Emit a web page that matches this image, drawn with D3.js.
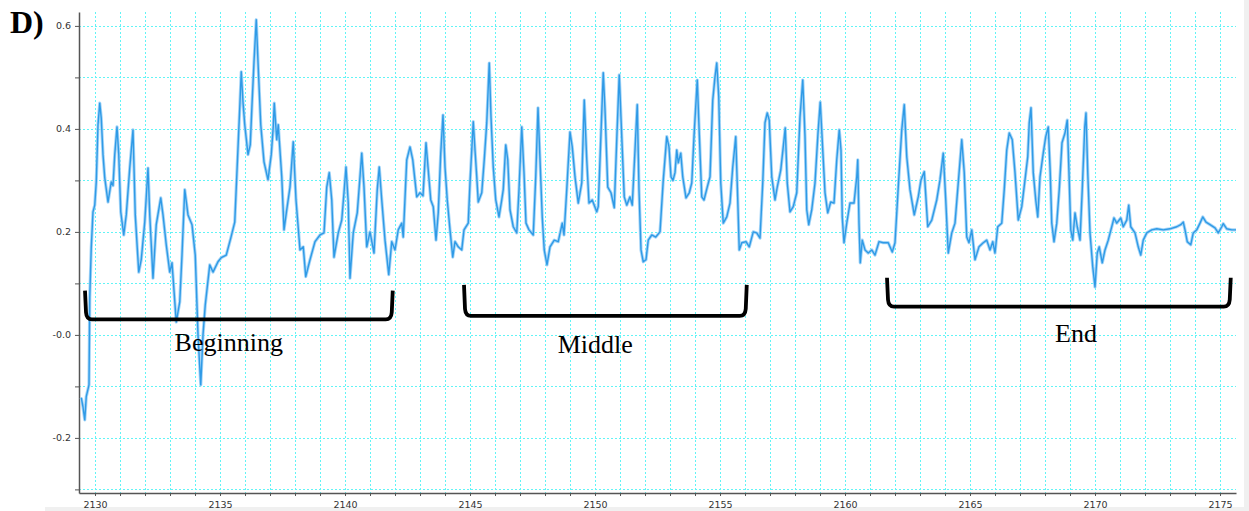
<!DOCTYPE html>
<html>
<head>
<meta charset="utf-8">
<script src="https://cdn.jsdelivr.net/npm/d3@7"></script>
<style>
  body { margin: 0; background: #fff; }
  .tick text { font-family: "DejaVu Sans", sans-serif; font-size: 9.5px; fill: #333; }
</style>
</head>
<body>
<div id="chart"></div>
<script>
// sample times (s)
let times = [
  2129.45, 2129.52, 2129.59, 2129.65, 2129.76, 2129.79, 2129.85, 2129.92, 2129.99, 2130.05,
  2130.12, 2130.19, 2130.25, 2130.32, 2130.39, 2130.52, 2130.65, 2130.72, 2130.79, 2130.88,
  2130.95, 2131.03, 2131.15, 2131.25, 2131.39, 2131.52, 2131.61, 2131.75, 2131.85, 2131.99,
  2132.12, 2132.19, 2132.32, 2132.45, 2132.63, 2132.72, 2132.85, 2132.99, 2133.08, 2133.25,
  2133.39, 2133.48, 2133.59, 2133.72, 2133.88, 2134.01, 2134.12, 2134.23, 2134.32, 2134.41,
  2134.59, 2134.72, 2134.92, 2135.05, 2135.25, 2135.43, 2135.59, 2135.69, 2135.79, 2135.85,
  2135.92, 2135.99, 2136.12, 2136.21, 2136.28, 2136.36, 2136.45, 2136.52, 2136.63, 2136.76,
  2136.92, 2137.05, 2137.13, 2137.17, 2137.27, 2137.33, 2137.47, 2137.56, 2137.67, 2137.80,
  2137.93, 2138.04, 2138.20, 2138.33, 2138.43, 2138.60, 2138.80, 2139.00, 2139.16, 2139.27,
  2139.37, 2139.47, 2139.56, 2139.73, 2139.87, 2139.96, 2140.04, 2140.13, 2140.20, 2140.33,
  2140.49, 2140.60, 2140.67, 2140.76, 2140.87, 2141.00, 2141.16, 2141.29, 2141.37, 2141.47,
  2141.60, 2141.75, 2141.87, 2142.00, 2142.13, 2142.27, 2142.33, 2142.47, 2142.60, 2142.71,
  2142.87, 2143.00, 2143.12, 2143.24, 2143.33, 2143.43, 2143.53, 2143.64, 2143.73, 2143.83,
  2143.92, 2144.00, 2144.09, 2144.20, 2144.31, 2144.40, 2144.53, 2144.67, 2144.76, 2144.93,
  2145.00, 2145.13, 2145.20, 2145.27, 2145.33, 2145.47, 2145.57, 2145.67, 2145.77, 2145.84,
  2145.93, 2146.03, 2146.16, 2146.27, 2146.33, 2146.43, 2146.51, 2146.60, 2146.73, 2146.87,
  2146.96, 2147.07, 2147.16, 2147.24, 2147.36, 2147.53, 2147.63, 2147.72, 2147.80, 2147.89,
  2147.97, 2148.08, 2148.20, 2148.37, 2148.53, 2148.69, 2148.76, 2148.87, 2149.00, 2149.09,
  2149.20, 2149.33, 2149.47, 2149.57, 2149.67, 2149.76, 2149.89, 2150.07, 2150.13, 2150.24,
  2150.33, 2150.40, 2150.51, 2150.64, 2150.77, 2150.88, 2150.97, 2151.07, 2151.17, 2151.27,
  2151.40, 2151.49, 2151.60, 2151.69, 2151.76, 2151.84, 2151.93, 2152.04, 2152.13, 2152.27,
  2152.43, 2152.60, 2152.73, 2152.87, 2152.96, 2153.04, 2153.12, 2153.20, 2153.27, 2153.33,
  2153.43, 2153.51, 2153.64, 2153.77, 2153.87, 2153.96, 2154.09, 2154.17, 2154.27, 2154.36,
  2154.49, 2154.60, 2154.71, 2154.80, 2154.87, 2154.95, 2155.03, 2155.13, 2155.27, 2155.40,
  2155.51, 2155.63, 2155.71, 2155.77, 2155.87, 2156.04, 2156.17, 2156.33, 2156.47, 2156.60,
  2156.71, 2156.80, 2156.89, 2156.97, 2157.07, 2157.20, 2157.29, 2157.43, 2157.53, 2157.61,
  2157.69, 2157.80, 2157.93, 2158.07, 2158.20, 2158.31, 2158.40, 2158.47, 2158.55, 2158.67,
  2158.80, 2158.92, 2159.01, 2159.11, 2159.20, 2159.31, 2159.43, 2159.56, 2159.67, 2159.77,
  2159.84, 2159.89, 2159.96, 2160.07, 2160.20, 2160.36, 2160.47, 2160.51, 2160.56, 2160.61,
  2160.69, 2160.80, 2160.93, 2161.07, 2161.20, 2161.36, 2161.53, 2161.73, 2161.89, 2162.00,
  2162.13, 2162.27, 2162.37, 2162.47, 2162.60, 2162.77, 2162.93, 2163.04, 2163.17, 2163.31,
  2163.47, 2163.67, 2163.80, 2163.93, 2164.03, 2164.13, 2164.27, 2164.40, 2164.53, 2164.67,
  2164.77, 2164.87, 2164.96, 2165.07, 2165.20, 2165.36, 2165.53, 2165.67, 2165.80, 2165.91,
  2166.00, 2166.11, 2166.27, 2166.37, 2166.47, 2166.57, 2166.69, 2166.80, 2166.93, 2167.07,
  2167.20, 2167.31, 2167.37, 2167.44, 2167.53, 2167.63, 2167.71, 2167.80, 2167.93, 2168.03,
  2168.13, 2168.21, 2168.27, 2168.36, 2168.47, 2168.57, 2168.68, 2168.80, 2168.89, 2168.96,
  2169.03, 2169.11, 2169.20, 2169.29, 2169.40, 2169.49, 2169.59, 2169.64, 2169.71, 2169.80,
  2169.91, 2170.00, 2170.09, 2170.17, 2170.29, 2170.40, 2170.53, 2170.67, 2170.76, 2170.87,
  2171.03, 2171.13, 2171.27, 2171.35, 2171.43, 2171.60, 2171.73, 2171.83, 2171.93, 2172.07,
  2172.27, 2172.47, 2172.73, 2173.00, 2173.27, 2173.43, 2173.53, 2173.60, 2173.69, 2173.83,
  2173.93, 2174.07, 2174.20, 2174.31, 2174.44, 2174.60, 2174.80, 2174.93, 2175.07, 2175.13,
  2175.27, 2175.47, 2175.64
];

// signal amplitude at each sample time
let values = [
  -0.122, -0.140, -0.165, -0.120, -0.097, 0.072, 0.169, 0.239, 0.252, 0.297,
  0.408, 0.450, 0.421, 0.350, 0.305, 0.258, 0.297, 0.290, 0.350, 0.404,
  0.350, 0.239, 0.194, 0.233, 0.324, 0.398, 0.233, 0.122, 0.146, 0.219,
  0.324, 0.233, 0.110, 0.214, 0.266, 0.233, 0.175, 0.122, 0.140, 0.025,
  0.064, 0.155, 0.282, 0.233, 0.214, 0.155, 0.000, -0.097, 0.000, 0.058,
  0.136, 0.122, 0.142, 0.150, 0.155, 0.188, 0.219, 0.330, 0.441, 0.511,
  0.452, 0.408, 0.350, 0.369, 0.447, 0.530, 0.612, 0.530, 0.408, 0.336,
  0.301, 0.350, 0.404, 0.450, 0.379, 0.408, 0.307, 0.204, 0.243, 0.287,
  0.375, 0.262, 0.165, 0.171, 0.113, 0.146, 0.181, 0.194, 0.198, 0.287,
  0.315, 0.262, 0.151, 0.198, 0.223, 0.276, 0.326, 0.256, 0.110, 0.198,
  0.237, 0.307, 0.353, 0.287, 0.171, 0.200, 0.159, 0.282, 0.326, 0.262,
  0.184, 0.117, 0.181, 0.165, 0.204, 0.217, 0.190, 0.340, 0.365, 0.340,
  0.268, 0.276, 0.270, 0.373, 0.320, 0.262, 0.249, 0.184, 0.237, 0.353,
  0.427, 0.326, 0.262, 0.204, 0.151, 0.181, 0.171, 0.165, 0.204, 0.217,
  0.295, 0.414, 0.359, 0.307, 0.258, 0.276, 0.340, 0.412, 0.528, 0.423,
  0.326, 0.262, 0.229, 0.262, 0.282, 0.369, 0.340, 0.243, 0.210, 0.198,
  0.282, 0.404, 0.315, 0.217, 0.204, 0.194, 0.307, 0.441, 0.340, 0.229,
  0.165, 0.136, 0.171, 0.184, 0.181, 0.217, 0.194, 0.282, 0.394, 0.365,
  0.307, 0.256, 0.295, 0.456, 0.340, 0.256, 0.262, 0.239, 0.249, 0.392,
  0.509, 0.437, 0.287, 0.276, 0.247, 0.392, 0.505, 0.385, 0.268, 0.252,
  0.268, 0.252, 0.359, 0.447, 0.282, 0.165, 0.142, 0.146, 0.184, 0.194,
  0.190, 0.200, 0.300, 0.385, 0.365, 0.307, 0.300, 0.315, 0.359, 0.334,
  0.353, 0.307, 0.266, 0.276, 0.295, 0.385, 0.495, 0.392, 0.268, 0.262,
  0.287, 0.307, 0.456, 0.501, 0.528, 0.462, 0.295, 0.217, 0.229, 0.256,
  0.326, 0.385, 0.262, 0.165, 0.179, 0.181, 0.171, 0.200, 0.198, 0.188,
  0.295, 0.412, 0.431, 0.417, 0.307, 0.262, 0.287, 0.320, 0.365, 0.402,
  0.295, 0.239, 0.249, 0.276, 0.423, 0.495, 0.385, 0.243, 0.214, 0.243,
  0.295, 0.392, 0.452, 0.359, 0.276, 0.237, 0.258, 0.256, 0.340, 0.398,
  0.359, 0.229, 0.179, 0.217, 0.256, 0.256, 0.307, 0.340, 0.217, 0.140,
  0.184, 0.165, 0.159, 0.165, 0.155, 0.181, 0.179, 0.179, 0.161, 0.179,
  0.287, 0.398, 0.447, 0.346, 0.282, 0.233, 0.268, 0.301, 0.317, 0.210,
  0.223, 0.262, 0.301, 0.353, 0.262, 0.159, 0.198, 0.217, 0.295, 0.379,
  0.315, 0.190, 0.179, 0.204, 0.146, 0.171, 0.179, 0.184, 0.165, 0.181,
  0.159, 0.210, 0.217, 0.282, 0.359, 0.392, 0.379, 0.315, 0.223, 0.249,
  0.301, 0.346, 0.412, 0.441, 0.315, 0.262, 0.229, 0.307, 0.353, 0.385,
  0.404, 0.315, 0.217, 0.181, 0.217, 0.282, 0.373, 0.392, 0.417, 0.315,
  0.204, 0.184, 0.237, 0.210, 0.184, 0.282, 0.404, 0.431, 0.315, 0.198,
  0.132, 0.093, 0.159, 0.171, 0.140, 0.165, 0.184, 0.210, 0.227, 0.217,
  0.227, 0.210, 0.223, 0.252, 0.210, 0.198, 0.171, 0.155, 0.184, 0.198,
  0.204, 0.206, 0.204, 0.206, 0.210, 0.214, 0.219, 0.204, 0.181, 0.175,
  0.198, 0.204, 0.217, 0.229, 0.219, 0.214, 0.208, 0.198, 0.210, 0.216,
  0.206, 0.204, 0.204
];

let yTickLabels = ["-0.2", "-0.0", "0.2", "0.4", "0.6"];

// segments marked under the trace
let segmentNames = ["Beginning", "Middle", "End"];
let segmentStart = [2129.60, 2144.76, 2161.68];
let segmentEnd = [2141.91, 2156.07, 2175.43];

// bracket geometry in data units
let annotations = [
  { top: 0.086, bottom: 0.030, labelX: 2135.35, labelY: -0.032 },
  { top: 0.097, bottom: 0.037, labelX: 2150.01, labelY: -0.036 },
  { top: 0.111, bottom: 0.055, labelX: 2169.24, labelY: -0.013 }
];

let width = 1249,
    height = 511,
    plot = { left: 79, right: 1236, top: 12, bottom: 493 };

let svg = d3.select("#chart")
  .append("svg")
    .attr("width", width)
    .attr("height", height);

let xScale = d3.scaleLinear()
  .domain([2129.36, 2175.64])
  .range([plot.left, plot.right]);

let yScale = d3.scaleLinear()
  .domain([-0.307, 0.627])
  .range([plot.bottom, plot.top]);

// light frame strips of the screenshot
svg.append("rect")
    .attr("x", 45).attr("y", 507).attr("width", width - 45).attr("height", 4)
    .attr("fill", "#f0f0f0");
svg.append("rect")
    .attr("x", 1244).attr("y", 0).attr("width", 5).attr("height", height)
    .attr("fill", "#f0f0f0");

// dotted grid
let xGrid = d3.range(2130, 2176);
let yGrid = d3.range(-3, 7).map(d => d / 10);

let grid = svg.append("g")
    .attr("stroke", "#62f4f6")
    .attr("stroke-width", 1)
    .attr("stroke-dasharray", "2,2");

grid.selectAll(".vgrid")
  .data(xGrid)
  .enter().append("line")
    .attr("class", "vgrid")
    .attr("x1", d => Math.round(xScale(d)) + 0.5)
    .attr("x2", d => Math.round(xScale(d)) + 0.5)
    .attr("y1", plot.top)
    .attr("y2", plot.bottom);

grid.selectAll(".hgrid")
  .data(yGrid)
  .enter().append("line")
    .attr("class", "hgrid")
    .attr("x1", plot.left)
    .attr("x2", plot.right)
    .attr("y1", d => Math.round(yScale(d)) + 0.5)
    .attr("y2", d => Math.round(yScale(d)) + 0.5);

// X axis
let xAxis = svg.append("g")
    .attr("transform", "translate(0," + plot.bottom + ")")
    .call(d3.axisBottom(xScale)
      .tickValues(xGrid)
      .tickSize(3)
      .tickSizeOuter(0)
      .tickFormat(d => d % 5 === 0 ? d : ""));

// Y axis
let yAxis = svg.append("g")
    .attr("transform", "translate(" + plot.left + ",0)")
    .call(d3.axisLeft(yScale)
      .tickValues(yGrid)
      .tickSize(4)
      .tickSizeOuter(0)
      .tickFormat(d => {
        let i = yTickLabels.findIndex(t => Math.abs(+t - d) < 1e-6);
        return i >= 0 ? yTickLabels[i] : "";
      }));

[xAxis, yAxis].forEach(a => {
  a.select(".domain").attr("stroke", "#555").attr("stroke-width", 1.5);
  a.selectAll(".tick line").attr("stroke", "#555");
});
xAxis.selectAll(".tick text").attr("dy", "0.9em");
yAxis.selectAll(".tick text").attr("x", -8);

// the trace
let data = times.map((t, i) => ({ t: t, v: values[i] }));

let line = d3.line()
    .x(d => xScale(d.t))
    .y(d => yScale(d.v));

svg.append("path")
    .datum(data)
    .attr("fill", "none")
    .attr("stroke", "#a6d6f8")
    .attr("stroke-width", 3.2)
    .attr("stroke-linejoin", "round")
    .attr("d", line);

svg.append("path")
    .datum(data)
    .attr("fill", "none")
    .attr("stroke", "#2f9ae6")
    .attr("stroke-width", 1.4)
    .attr("stroke-linejoin", "round")
    .attr("d", line);

// brackets and their labels
let r = 7;
let brackets = svg.append("g");

segmentNames.forEach((name, i) => {
  let a = annotations[i],
      x0 = xScale(segmentStart[i]),
      x1 = xScale(segmentEnd[i]),
      yt = yScale(a.top),
      yb = yScale(a.bottom);

  brackets.append("path")
      .attr("fill", "none")
      .attr("stroke", "#000")
      .attr("stroke-width", 3.8)
      .attr("d", "M" + x0 + "," + yt +
                 " L" + (x0 + 1) + "," + (yb - r) +
                 " Q" + (x0 + 1.5) + "," + yb + " " + (x0 + r) + "," + yb +
                 " L" + (x1 - r) + "," + yb +
                 " Q" + (x1 - 1.5) + "," + yb + " " + (x1 - 1) + "," + (yb - r) +
                 " L" + x1 + "," + yt);

  brackets.append("text")
      .attr("x", xScale(a.labelX))
      .attr("y", yScale(a.labelY))
      .attr("text-anchor", "middle")
      .attr("font-family", "Liberation Serif, Times New Roman, serif")
      .attr("font-size", 26)
      .attr("fill", "#000")
      .text(name);
});

// panel letter
svg.append("text")
    .attr("x", 10)
    .attr("y", 33)
    .attr("font-family", "Liberation Serif, Times New Roman, serif")
    .attr("font-weight", "bold")
    .attr("font-size", 32)
    .text("D)");
</script>
</body>
</html>
